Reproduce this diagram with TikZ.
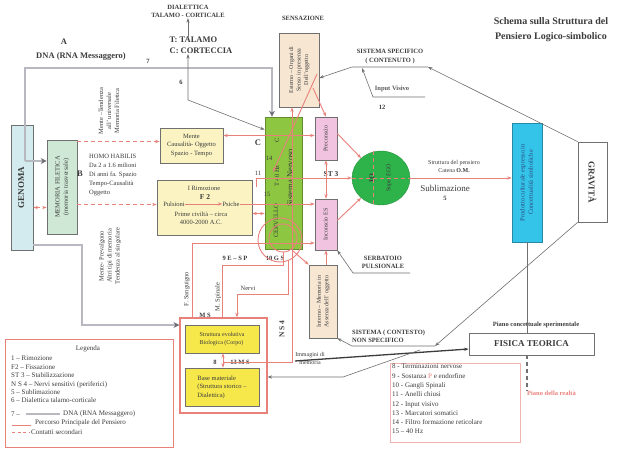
\documentclass[tikz,border=0pt]{standalone}
\usepackage{fontspec}
\setmainfont{Liberation Serif}
\usepackage{graphicx}
\usetikzlibrary{arrows.meta,calc,shapes.geometric}

\definecolor{ink}{HTML}{3C3C3C}
\definecolor{ink2}{HTML}{707070}
\definecolor{redl}{HTML}{E9817B}
\definecolor{genfill}{HTML}{D3EBEF}
\definecolor{memfill}{HTML}{CFE8D5}
\definecolor{yelfill}{HTML}{FBF4C2}
\definecolor{nervgreen}{HTML}{8DC641}
\definecolor{peach}{HTML}{F6E6D2}
\definecolor{pinkbox}{HTML}{F1C3E1}
\definecolor{egogreen}{HTML}{2EB34B}
\definecolor{cyanbox}{HTML}{34C4EA}
\definecolor{bluetxt}{HTML}{2B4C80}
\definecolor{ybox}{HTML}{F6E74B}
\definecolor{dnagray}{HTML}{6F6F78}
\definecolor{dnalight}{HTML}{B8B8C0}

\newcommand{\vtext}[1]{\rotatebox{90}{\begin{tabular}{@{}c@{}}#1\end{tabular}}}

\begin{document}
\begin{tikzpicture}[
    x=1pt, y=-1pt,
    >={Stealth[length=4.5pt,width=3.2pt]},
    txt/.style={inner sep=0pt, align=center, text=ink, font=\fontsize{6.5}{8}\selectfont},
    btxt/.style={txt, font=\fontsize{6.5}{8.5}\selectfont\bfseries},
    bigt/.style={txt, font=\fontsize{8.5}{11}\selectfont\bfseries},
    ttl/.style={txt, font=\fontsize{10}{15}\selectfont\bfseries},
    box/.style={draw=ink2, line width=0.6pt, inner sep=0pt, align=center, text=ink, font=\fontsize{6.5}{8.3}\selectfont},
    rline/.style={draw=redl, line width=0.9pt},
    rarr/.style={rline, ->},
    rdarr/.style={rarr, dash pattern=on 4pt off 3pt},
    garr/.style={->, draw=ink2, line width=0.6pt},
    dnal/.style={draw=dnagray, line width=0.8pt, double=dnalight, double distance=1.3pt},
    dna/.style={dnal, -{Stealth[length=6pt,width=6pt]}}
]
\fill[white] (0,0) rectangle (624,457);
\useasboundingbox (0,0) rectangle (624,457);

% ---------------- titolo e testi in alto ----------------
\node[ttl] (title) at (551,30) {Schema sulla Struttura del\\Pensiero Logico-simbolico};
\node[btxt] (dial) at (188,11.5) {DIALETTICA\\TALAMO - CORTICALE};
\node[bigt, align=left] (tc) at (201,45.5) {T: TALAMO\\C: CORTECCIA};
\node[bigt] (lA) at (64,42) {A};
\node[bigt] (dnat) at (81,56) {DNA (RNA Messaggero)};
\node[btxt] (l7) at (148,61) {7};
\node[btxt] (l6) at (181,82) {6};

% ---------------- colonna sinistra ----------------
\node[box, fill=genfill, minimum width=22pt, minimum height=125pt, font=\fontsize{9}{10}\selectfont\bfseries] (genoma) at (22,187.5) {\vtext{GENOMA}};
\node[box, fill=memfill, minimum width=30pt, minimum height=94pt] (mem) at (62,187) {\vtext{MEMORIA FILETICA\\(memoria trasversale)}};
\node[bigt] (lB) at (80,174) {B};
\node[txt, rotate=90] (mtend) at (109,111) {Mente –Tendenza\\all' universale\\Memoria Filetica};
\node[txt, align=left, anchor=north west, font=\fontsize{6.5}{9}\selectfont] (homo) at (89,154) {HOMO HABILIS\\Da 2 a 1.6 milioni\\Di anni fa. Spazio\\Tempo-Causalità\\Oggetto};
\node[txt, rotate=90] (mprev) at (110,256) {Mente- Prevalgono\\Altri tipi di memoria\\Tendenza al singolare};

% ---------------- mente / F2 ----------------
\node[box, fill=yelfill, minimum width=63pt, minimum height=35pt] (mente) at (191.5,145.5) {Mente\\Causalità- Oggetto\\Spazio - Tempo};
\node[box, fill=yelfill, minimum width=95pt, minimum height=55pt] (f2) at (204.5,207.5) {};
\node[txt] (rimoz) at (204,188) {I Rimozione};
\node[btxt, font=\fontsize{7.5}{9}\selectfont\bfseries] (lF2) at (205,197) {F 2};
\node[txt] (puls) at (174,204) {Pulsioni};
\node[txt] (psiche) at (231,204) {Psiche};
\node[txt] (prime) at (201,218) {Prime civiltà – circa\\4000-2000 A.C.};

% ---------------- sistema nervoso ----------------
\node[box, fill=nervgreen, draw=nervgreen!70!black, minimum width=37pt, minimum height=132pt] (nerv) at (283.5,183) {};
\node[txt, rotate=90] (cerv) at (276,221) {CERVELLO};
\node[txt, rotate=90] (t40) at (277,176) {T 40 Hz};
\node[txt, rotate=90] (cc) at (277,140) {C};
\node[txt, rotate=90, font=\fontsize{8.5}{10}\selectfont] (snerv) at (290,178) {Sistema Nervoso};
\node[bigt] (lC) at (258,143) {C};
\node[txt] (l14) at (269,158) {14};
\node[txt] (l11) at (258,173) {11};
\node[txt] (l15) at (267,194) {15};

% ---------------- sensazione / psiche ----------------
\node[btxt] (sensT) at (303,18) {SENSAZIONE};
\node[box, fill=peach, minimum width=40pt, minimum height=74pt, font=\fontsize{6}{7.5}\selectfont] (sens) at (299,70) {\vtext{Esterno – Organi di\\Senso in presenza\\Dell'oggetto}};
\node[btxt] (sspec) at (390,56.5) {SISTEMA SPECIFICO\\( CONTENUTO )};
\node[btxt, text=ink!85] (ivis) at (392,89) {Input Visivo};
\node[btxt] (l12) at (382,107) {12};
\node[box, fill=pinkbox, minimum width=22pt, minimum height=43pt, font=\fontsize{6}{7.5}\selectfont] (prec) at (326,138.5) {\vtext{Preconscio}};
\node[box, fill=pinkbox, minimum width=22pt, minimum height=51pt, font=\fontsize{6}{7.5}\selectfont] (inc) at (326,224.5) {\vtext{Inconscio ES}};
\node[ellipse, draw=egogreen!80!black, fill=egogreen, minimum width=58pt, minimum height=54pt, inner sep=0pt] (ego) at (381,178) {};
\node[txt, rotate=90, font=\fontsize{7.5}{9}\selectfont\bfseries] (lIO) at (372,178) {IO};
\node[txt, rotate=90, font=\fontsize{6}{7.5}\selectfont] (sego) at (389,178) {Super EGO};
\node[btxt, font=\fontsize{7.5}{9}\selectfont\bfseries] (lST) at (331,174) {ST 3};

% ---------------- lato destro ----------------
\node[txt, font=\fontsize{6}{8}\selectfont] (catena) at (454,166) {Struttura del pensiero\\Catena \textbf{O.M.}};
\node[txt, font=\fontsize{9}{10}\selectfont] (subl) at (445,188) {Sublimazione};
\node[btxt] (l5) at (445,198) {5};
\node[box, fill=cyanbox, draw=cyanbox!70!black, text=bluetxt, minimum width=30pt, minimum height=119pt] (prod) at (527,182.5) {\vtext{Prodotto culturale espresso in\\Concettualità simboliche}};
\node[box, fill=white, minimum width=29pt, minimum height=80pt, font=\fontsize{9}{10}\selectfont\bfseries] (grav) at (592.5,182) {\rotatebox{-90}{GRAVITÀ}};
\node[btxt] (piano) at (536,325) {Piano concettuale sperimentale};
\node[box, fill=white, minimum width=125pt, minimum height=22pt, font=\fontsize{9}{10}\selectfont\bfseries] (fis) at (531.5,344) {FISICA TEORICA};
\node[btxt, text=redl, anchor=west] (preal) at (527,393) {Piano della realtà};

% ---------------- parte bassa centrale ----------------
\node[btxt] (serb) at (383,262.5) {SERBATOIO\\PULSIONALE};
\node[box, fill=peach, minimum width=28pt, minimum height=73pt, font=\fontsize{6}{7.5}\selectfont] (intr) at (323,301.5) {\vtext{Interno – Memoria in\\Assenza dell' oggetto}};
\node[btxt, align=left, anchor=west] (nspec) at (352,336.5) {SISTEMA ( CONTESTO)\\NON SPECIFICO};
\node[btxt] (l9) at (235,258) {9 E – S P};
\node[btxt] (l10) at (275,258) {10 G S};
\node[txt, rotate=90] (fsang) at (187,289) {F. Sanguigno};
\node[txt, rotate=90] (mspin) at (218,297) {M. Spinale};
\node[txt] (nervi) at (248,288) {Nervi};
\node[btxt, rotate=90, font=\fontsize{7.5}{9}\selectfont\bfseries] (ns4) at (282,329) {N S 4};
\node[txt, font=\fontsize{6}{8}\selectfont] (immag) at (310,358) {Immagini di\\memoria};

% ---------------- M S ----------------
\node[box, draw=redl, line width=1.1pt, minimum width=87pt, minimum height=95pt] (ms) at (223.5,365.5) {};
\node[btxt] (lMS) at (205,315) {M S};
\node[box, fill=ybox, align=left, minimum width=74pt, minimum height=28pt, font=\fontsize{6}{8.5}\selectfont] (sevo) at (222,339) {Struttura evolutiva\\Biologica (Corpo)};
\node[box, fill=ybox, align=left, minimum width=74pt, minimum height=38pt, font=\fontsize{6.5}{8.5}\selectfont] (base) at (222,387) {Base materiale\\(Struttura storico –\\Dialettica)};
\node[btxt] (l8) at (215,362) {8};
\node[btxt] (l13) at (240,362) {13 M S};

% ---------------- legende ----------------
\node[box, draw=redl, line width=0.9pt, minimum width=168pt, minimum height=108pt] (leg) at (89,393) {};
\node[txt, font=\fontsize{7}{8}\selectfont] (legT) at (88,349) {Legenda};
\node[txt, align=left, anchor=north west, font=\fontsize{7}{8.4}\selectfont] (legL) at (11,356) {1 – Rimozione\\F2 – Fissazione\\ST 3 – Stabilizzazione\\N S 4 – Nervi sensitivi (periferici)\\5 – Sublimazione\\6 – Dialettica talamo-corticale};
\node[txt, anchor=west, font=\fontsize{7}{8.4}\selectfont] (leg7) at (11,414) {7 –};
\node[txt, anchor=west, font=\fontsize{7}{8.4}\selectfont] (leg7t) at (63,414) {DNA (RNA Messaggero)};
\node[txt, anchor=west, font=\fontsize{7}{8.4}\selectfont] (legP) at (35,423) {Percorso Principale del Pensiero};
\node[txt, anchor=west, font=\fontsize{7}{8.4}\selectfont] (legD) at (31,432) {Contatti secondari};
\coordinate (lg7a) at (26,414);
\coordinate (lg7b) at (60,414);
\coordinate (lgPa) at (12,425);
\coordinate (lgPb) at (31,425);
\coordinate (lgDa) at (12,432);
\coordinate (lgDb) at (29,432);
\draw[dnal] (lg7a) -- (lg7b);
\draw[rline] (lgPa) -- (lgPb);
\draw[rline, dash pattern=on 3pt off 2.5pt] (lgDa) -- (lgDb);

\node[box, draw=redl!60, line width=0.5pt, minimum width=130pt, minimum height=79pt] (leg2) at (455,402.5) {};
\node[txt, align=left, anchor=north west, font=\fontsize{7}{9.3}\selectfont] (leg2L) at (392,364) {8 - Terminazioni nervose\\9 - Sostanza \textcolor{redl}{P} e endorfine\\10 - Gangli Spinali\\11 - Anelli chiusi\\12 - Input visivo\\13 - Marcatori somatici\\14 - Filtro formazione reticolare\\15 – 40 Hz};

% ---------------- DNA (RNA messaggero) ----------------
\coordinate (g1) at (25,161);
\coordinate (g2) at (25,68);
\coordinate (g3) at (272,68);
\coordinate (g4) at (82,245);
\coordinate (g5) at (82,325);
\draw[dna] (g1) -- (g2) -- (g3) -- (g3 |- nerv.north);
\draw[dna] (g1) -- (g1 -| mem.west);
\draw[dna] (genoma.east |- g4) -- (g4) -- (g5) -- (g5 -| ms.west);

% ---------------- percorsi rossi ----------------
\draw[rdarr, <->] (genoma.east |- f2.west) -- (mem.west |- f2.west);
\draw[rdarr] ([yshift=4pt]mente.west -| mem.east) -- ([yshift=4pt]mente.west);
\draw[rdarr] ([yshift=3pt]f2.west -| mem.east) -- ([yshift=3pt]f2.west);
\draw[rarr] (puls.east) -- (psiche.west);
\draw[rarr] (psiche.east) -- (psiche.east -| inc.west);
\draw[rarr, <->] ([yshift=-6pt]f2.east) -- ([yshift=-6pt]f2.east -| nerv.west);
\draw[rarr, <->] ([yshift=10pt]mente.east) -- ([yshift=10pt]mente.east -| prec.west);

\coordinate (k11) at (256,178);
\coordinate (k11b) at (256,187);
\draw[rline] (k11b) -- (k11);
\draw[rarr] (k11) -- (k11 -| ego.west);
\draw[rline, dash pattern=on 4pt off 3pt] (ego.west) -- (ego.east);
\draw[rline, dash pattern=on 4pt off 3pt] ([xshift=-8pt]ego.north) -- ([xshift=-8pt]ego.south);
\draw[rarr] (ego.east) -- (ego.east -| prod.west);
\draw[rarr, <->] (prec.south) -- (inc.north);
\draw[rarr] ([yshift=5pt]prec.east) -- (ego.135);
\draw[rarr] ([yshift=4pt]inc.east) -- (ego.225);

\coordinate (s1) at (317,74);
\coordinate (s2) at (273,172);
\coordinate (s3) at (313,88);
\draw[rarr] (s1) -- (s2);
\draw[rarr] (s3) -- (prec.north);
\coordinate (v1) at (292,362);
\coordinate (v2) at (223,362);
\draw[rarr, <-] (sens.south -| v1) -- (v1) -- (v2);

% cerchi (gangli)
\draw[rline] (280,240) circle[radius=22pt];
\draw[rline] (283,238) circle[radius=14pt];

\coordinate (fs) at (192,243);
\draw[rarr] (fs |- ms.north) -- (fs) -- (fs -| inc.west);
\coordinate (sp1) at (222,265);
\coordinate (sp2) at (283,265);
\coordinate (sp3) at (283,252);
\draw[rline] (sp1 |- ms.north) -- (sp1) -- (sp2) -- (sp3);
\coordinate (nv0) at (288,260);
\coordinate (nv1) at (237,294);
\coordinate (nv2) at (288,294);
\draw[rarr] (nv0) -- (nv2) -- (nv1) -- (nv1 |- ms.north);
\coordinate (cx) at (293,251);
\draw[rarr] (cx) -- (intr.north west);
\draw[rarr] (inc.south |- intr.north) -- (inc.south);
\draw[rarr, <->] (sevo.south -| v2) -- (base.north -| v2);

% ---------------- collegamenti grigi ----------------
\draw[garr] (tc.north -| dial.south) -- (dial.south);
\coordinate (k6) at (188,100);
\draw[garr, <->] (tc.south -| k6) -- (k6) -- ([yshift=-13pt]nerv.north west);
\coordinate (ss1) at (428,67);
\coordinate (ss2) at (352,67);
\coordinate (ss3) at (362,68);
\draw[garr] (ss1) -- (ss2) -- ([yshift=-8pt]sens.east);
\draw[garr] (grav.north west) -- (ss1);
\coordinate (iv1) at (373,97);
\coordinate (iv2) at (425,97);
\draw[garr] (iv2) -- (iv1) -- (ss3);
\coordinate (sb1) at (410,273);
\coordinate (sb2) at (353,273);
\draw[garr] (sb1) -- (sb2) -- (inc.south east);
\coordinate (ns1) at (435,346);
\coordinate (ns2) at (352,346);
\draw[garr] (grav.south west) -- (ns1);
\draw[garr] (ns1) -- (ns2) -- (intr.south east);
\draw[draw=ink2, line width=0.6pt] (prod.south) -- (prod.south |- fis.north);
\coordinate (im) at (295,361);
\draw[->, draw=ink, line width=1.3pt] (im) -- ([yshift=-5pt]fis.west);
\coordinate (bm0) at (420,350);
\coordinate (bm1) at (343,377);
\draw[garr] (bm0) -- (bm1) -- (bm1 -| ms.east);
\draw[draw=ink2, line width=1.4pt, dash pattern=on 4pt off 3pt] (fis.south -| preal.west) -- (preal.north west);

\end{tikzpicture}
\end{document}
